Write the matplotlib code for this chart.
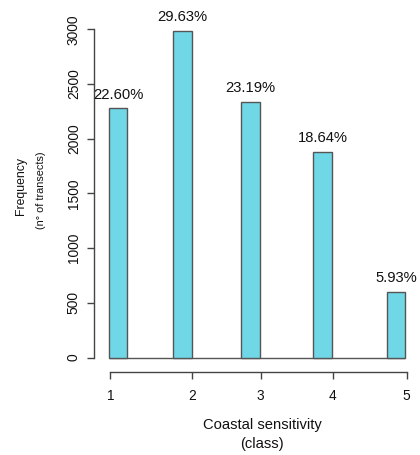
import matplotlib
matplotlib.use("Agg")
import matplotlib.pyplot as plt

plt.rcParams['font.family'] = ['Liberation Sans', 'DejaVu Sans']

# Data
classes = [1, 2, 3, 4, 5]
counts = [2278, 2987, 2338, 1879, 598]
pct_labels = ["22.60%", "29.63%", "23.19%", "18.64%", "5.93%"]
yticks = [0, 500, 1000, 1500, 2000, 2500, 3000]

# Layout (irregular positions as in the reference)
tick_pos = [1.0, 2.10, 3.03, 4.0, 5.0]
bar_left = [0.98, 1.85, 2.77, 3.74, 4.73]
bar_w = 0.25

W, H = 420, 455
fig = plt.figure(figsize=(W / 100, H / 100), dpi=100)
ax = fig.add_axes([94 / W, (H - 372) / H, (415 - 94) / W, (372 - 10) / H])

ax.bar(bar_left, counts, width=bar_w, align='edge', color='#70D7E7',
       edgecolor='#555555', linewidth=1.0, zorder=2)
ax.hlines(0, bar_left[0], bar_left[-1] + bar_w, color='#555555', linewidth=1.0, zorder=1)

for x, c, lab in zip(bar_left, counts, pct_labels):
    ax.annotate(lab, (x + bar_w / 2, c), xytext=(0, 7), textcoords='offset points',
                ha='center', va='baseline', fontsize=10.6, color='#111111')

px_per_unit = 54.7 / 500
ax.set_ylim(-(372 - 357.5) / px_per_unit, (357.5 - 10) / px_per_unit)
xppu = 74.1
ax.set_xlim(1 - (110.3 - 94) / xppu, 1 + (415 - 110.3) / xppu)

for s in ['top', 'right']:
    ax.spines[s].set_visible(False)
ax.spines['left'].set_bounds(0, 3000)
ax.spines['bottom'].set_bounds(tick_pos[0], tick_pos[-1])
for s in ['left', 'bottom']:
    ax.spines[s].set_color('#444444')
    ax.spines[s].set_linewidth(1.0)

ax.set_yticks(yticks)
ax.set_yticklabels([str(v) for v in yticks], rotation=90, va='center')
ax.set_xticks(tick_pos)
ax.set_xticklabels([str(c) for c in classes])
ax.tick_params(axis='both', length=5, width=1.0, color='#444444', labelsize=9.9,
               labelcolor='#111111')
ax.tick_params(axis='y', pad=4.5)
ax.tick_params(axis='x', pad=7)

fig.text(262 / W, 1 - 425 / H, 'Coastal sensitivity', ha='center', va='center',
         fontsize=10.6, color='#111111')
fig.text(262 / W, 1 - 444 / H, '(class)', ha='center', va='center',
         fontsize=10.6, color='#111111')
fig.text(21 / W, 1 - 186 / H, 'Frequency', rotation=90, ha='center', va='center',
         fontsize=8.8, color='#111111')
fig.text(41 / W, 1 - 190 / H, '(n° of transects)', rotation=90, ha='center', va='center',
         fontsize=7.8, color='#111111')

fig.savefig('out.png', dpi=100)
